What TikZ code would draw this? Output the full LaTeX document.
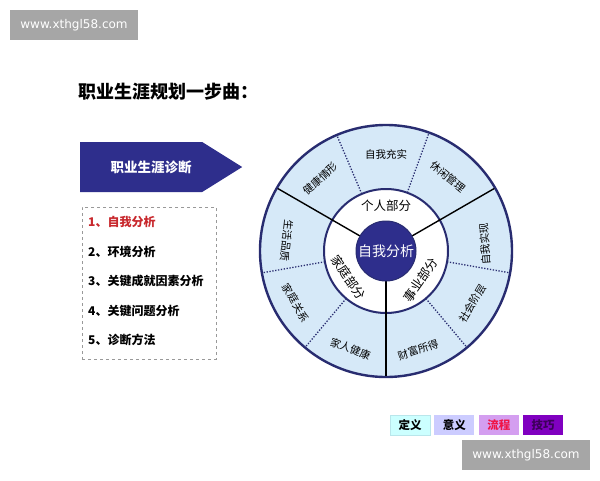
\documentclass[tikz,border=0pt]{standalone}
\usepackage{fontspec}
\setmainfont{Noto Sans CJK SC}
\newfontfamily\webfont{DejaVu Sans}
\usetikzlibrary{positioning, calc, shapes.symbols}
\definecolor{navy}{RGB}{46,46,140}
\definecolor{rim}{RGB}{40,44,112}
\definecolor{ringblue}{RGB}{214,233,248}
\definecolor{wmgray}{RGB}{166,166,166}
\definecolor{itemred}{RGB}{200,40,45}

\begin{document}
\begin{tikzpicture}[x=1pt, y=-1pt,
  every node/.style={inner sep=0pt, font=\fontsize{11}{13}\selectfont},
  wmark/.style   = {fill=wmgray, text=white, minimum width=128pt, minimum height=30pt, font=\webfont\fontsize{12}{14}\selectfont},
  diag/.style    = {signal, signal to=east, signal pointer angle=64, fill=navy, text=white, minimum width=162pt, minimum height=50pt, font=\bfseries\fontsize{13.5}{15}\selectfont},
  item/.style    = {anchor=west, font=\bfseries\fontsize{12}{14}\selectfont},
  seg/.style     = {font=\fontsize{10.5}{12}\selectfont},
  part/.style    = {font=\fontsize{12.5}{14}\selectfont},
  core/.style    = {circle, fill=navy, draw=rim, line width=1pt, minimum size=60pt, text=white, font=\fontsize{14}{16}\selectfont},
  rimline/.style = {draw=rim, line width=2.4pt},
  spoke/.style   = {black, line width=1.4pt},
  divider/.style = {rim, line width=1.3pt, dash pattern=on 1.3pt off 1.6pt},
  tab/.style     = {minimum width=40pt, minimum height=20pt, font=\bfseries\fontsize{11.5}{13}\selectfont},
]
  \useasboundingbox[fill=white] (0,0) rectangle (600,480);
  \node[wmark] (wm1) at (74,25) {www.xthgl58.com};
  \node[anchor=west, font=\bfseries\fontsize{18}{20}\selectfont] (title) at (78,92) {职业生涯规划一步曲：};

  % left column
  \node[diag, anchor=west] (diag) at (80,167) {\hspace{20pt}职业生涯诊断};
  \node[draw=gray!80, dashed, line width=0.8pt, minimum width=134pt, minimum height=152pt] (list) at (149,283) {};
  \foreach \t/\c [count=\i] in {1、自我分析/itemred, 2、环境分析/black, 3、关键成就因素分析/black, 4、关键问题分析/black, 5、诊断方法/black}
    \node[item, text=\c] (i\i) at (88,{222+29.5*(\i-1)}) {\t};

  % wheel
  \coordinate (c) at (386,251);
  \fill[ringblue] (c) circle (126pt);
  \draw[rimline] (c) circle (126pt);
  \foreach \a in {70,113,190,230,-10,-50}
    \draw[divider] ($(c)+(\a:62pt)$) -- ($(c)+(\a:125pt)$);
  \draw[rimline, fill=white, line width=2pt] (c) circle (62pt);
  \foreach \a in {30,150,270}
    \draw[spoke] ($(c)+(\a:30pt)$) -- ($(c)+(\a:125pt)$);
  \node[core] (core) at (c) {自我分析};

  \foreach \a/\r/\d/\t [count=\i] in {132/42/98/健康情形, 90/0/97/自我充实, 50/-40/97/休闲管理, 4/94/99/自我实现, -31/59/101/社会阶层, -72/18/104/财富所得, 250/-20/104/家人健康, 210/-60/104/家庭关系, 174/-96/100/生活品质}
    \node[seg, rotate=\r] (o\i) at ($(c)+(\a:\d pt)$) {\t};
  \foreach \a/\r/\d/\t [count=\i] in {90/0/45/个人部分, 215/-55/46/家庭部分, -40/55/45/事业部分}
    \node[part, rotate=\r] (p\i) at ($(c)+(\a:\d pt)$) {\t};

  % tabs
  \node[tab, fill={rgb,255:red,204;green,255;blue,255}, draw={rgb,255:red,185;green,230;blue,235}] (t1) at (410,425) {定义};
  \node[tab, fill={rgb,255:red,204;green,204;blue,255}, right=4pt of t1] (t2) {意义};
  \node[tab, fill={rgb,255:red,212;green,158;blue,240}, text={rgb,255:red,240;green,20;blue,70}, right=4pt of t2] (t3) {流程};
  \node[tab, fill={rgb,255:red,128;green,0;blue,192}, text={rgb,255:red,60;green,0;blue,90}, right=4pt of t3] (t4) {技巧};
  \node[wmark] (wm2) at (526,455) {www.xthgl58.com};
\end{tikzpicture}
\end{document}
